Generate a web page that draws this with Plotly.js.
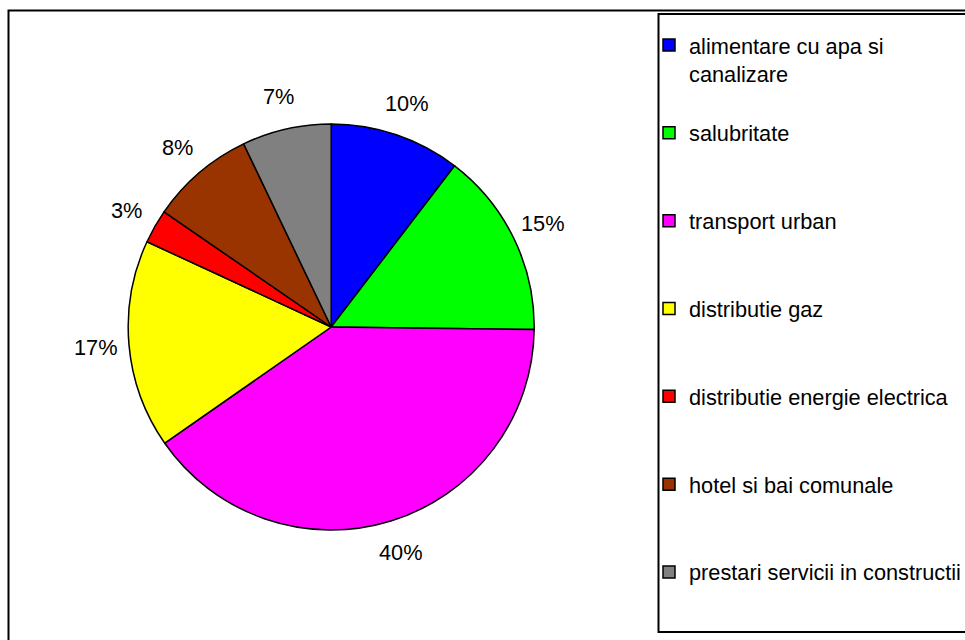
<!DOCTYPE html>
<html><head><meta charset="utf-8">
<script src="https://cdn.plot.ly/plotly-3.0.1.min.js"></script>
<style>html,body{margin:0;padding:0;background:#fff}#chart{width:965px;height:640px}</style>
</head><body><div id="chart"></div>
<script>
const categories = [
  "alimentare cu apa si canalizare",
  "salubritate",
  "transport urban",
  "distributie gaz",
  "distributie energie electrica",
  "hotel si bai comunale",
  "prestari servicii in constructii"
];
const legendLabels = [
  "alimentare cu apa si<br>canalizare",
  "salubritate",
  "transport urban",
  "distributie gaz",
  "distributie energie electrica",
  "hotel si bai comunale",
  "prestari servicii in constructii"
];
const values = [10.4, 14.8, 40.1, 16.6, 2.7, 8.3, 7.1];
const colors = ["#0000FF", "#00FF00", "#FF00FF", "#FFFF00", "#FF0000", "#993300", "#808080"];

const W = 965, H = 640;
const px = x => x / W;
const py = y => 1 - y / H;
const cx = 331.2, cy = 327, R = 203, RL = 236;
const FONT = "Liberation Sans, Arial, sans-serif";
const FS = 21.75;

// pad legend labels to 3 lines so the entries are spaced like the original
const padded = legendLabels.map(t => {
  const n = t.split("<br>").length;
  let s = t;
  for (let i = n; i < 3; i++) s += "<br> ";
  return s;
});

const total = values.reduce((a, b) => a + b, 0);
let cum = 0;
const annotations = values.map(v => {
  const mid = (cum + v / 2) / total * 2 * Math.PI;
  cum += v;
  return {
    x: px(cx + RL * Math.sin(mid)),
    y: py(cy - RL * Math.cos(mid)),
    xref: "paper", yref: "paper",
    text: Math.round(v / total * 100) + "%",
    showarrow: false,
    xanchor: "center", yanchor: "middle",
    font: {family: FONT, size: FS, color: "#000"}
  };
});

const trace = {
  type: "pie",
  labels: padded,
  values: values,
  sort: false,
  direction: "clockwise",
  rotation: 0,
  textinfo: "none",
  hoverinfo: "label+percent",
  marker: {colors: colors, line: {color: "#000", width: 1.5}},
  domain: {x: [px(cx - R), px(cx + R)], y: [py(cy + R), py(cy - R)]}
};

const shapes = [
  {type: "rect", xref: "paper", yref: "paper", x0: px(8.5), x1: px(1000), y0: py(10.5), y1: py(700),
   line: {color: "#000", width: 2}, fillcolor: "rgba(0,0,0,0)", layer: "below"},
  {type: "rect", xref: "paper", yref: "paper", x0: px(658.5), x1: px(1000), y0: py(14), y1: py(632),
   line: {color: "#000", width: 2}, fillcolor: "rgba(0,0,0,0)", layer: "below"}
];

const layout = {
  width: W, height: H,
  margin: {l: 0, r: 0, t: 0, b: 0, pad: 0, autoexpand: false},
  paper_bgcolor: "#fff",
  font: {family: FONT, size: FS, color: "#000"},
  showlegend: true,
  legend: {
    x: px(649), xanchor: "left",
    y: py(24.4), yanchor: "top",
    bgcolor: "rgba(0,0,0,0)", borderwidth: 0,
    font: {family: FONT, size: FS, color: "#000"},
    valign: "top",
    traceorder: "normal"
  },
  annotations: annotations,
  shapes: shapes
};

Plotly.newPlot("chart", [trace], layout, {displayModeBar: false, staticPlot: true});
</script>
</body></html>
